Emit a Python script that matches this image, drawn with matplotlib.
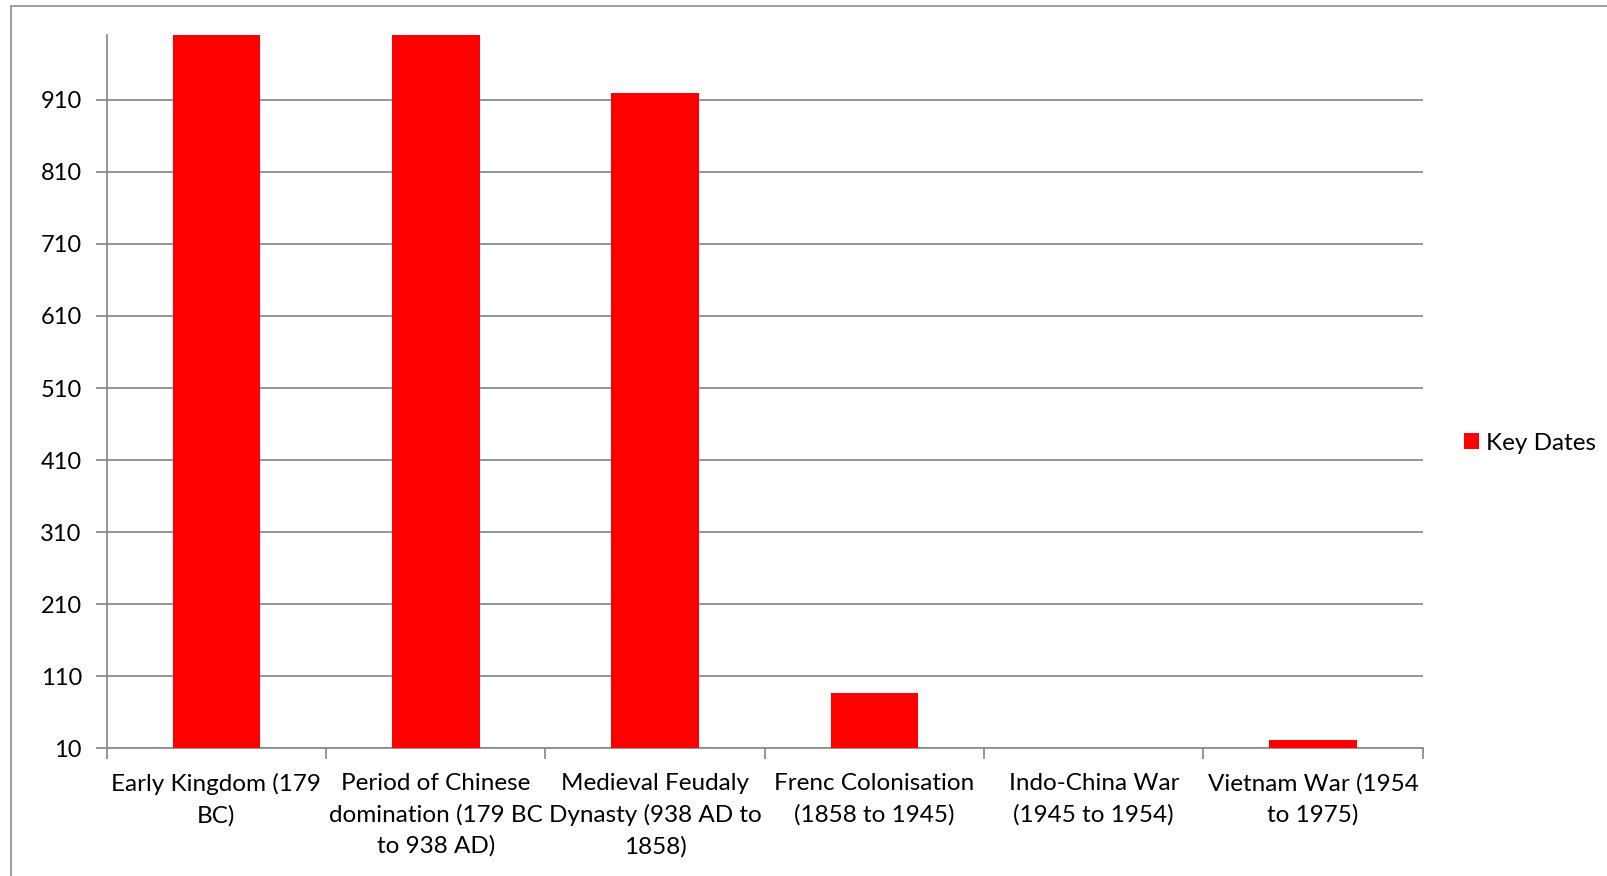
import matplotlib.pyplot as plt
from matplotlib.patches import Rectangle

plt.rcParams['font.family'] = ['Lato', 'DejaVu Sans']

# данни
categories = ['Early Kingdom (179\nBC)',
              'Period of Chinese\ndomination (179 BC\nto 938 AD)',
              'Medieval Feudaly\nDynasty (938 AD to\n1858)',
              'Frenc Colonisation\n(1858 to 1945)',
              'Indo-China War\n(1945 to 1954)',
              'Vietnam War (1954\nto 1975)']
key_dates = [1000, 1117, 920, 87, 9, 21]
y_ticks = [10, 110, 210, 310, 410, 510, 610, 710, 810, 910]

fig = plt.figure(figsize=(16.08, 8.76), dpi=100)

# рамка около графиката
fig.patches.append(Rectangle((11 / 1608, -0.1), 1.1, 1 - 6 / 876 + 0.1,
                             transform=fig.transFigure, fill=False,
                             edgecolor='#8c8c8c', linewidth=1.2))

ax = fig.add_axes([0.0664, 0.1458, 0.8184, 0.8143])

x = range(len(categories))
ax.bar(x, key_dates, width=0.4, color='#ff0000', label='Key Dates', zorder=3)

ax.set_xlim(-0.5, len(categories) - 0.5)
ax.set_ylim(10, 1000)
ax.set_yticks(y_ticks)
ax.set_yticklabels([str(v) for v in y_ticks])

ax.set_xticks(x)
ax.set_xticklabels(categories, linespacing=1.55)
ax.set_xticks([i - 0.5 for i in range(len(categories) + 1)], minor=True)
ax.tick_params(axis='x', which='major', length=0, pad=18, labelsize=17.5)
ax.tick_params(axis='x', which='minor', length=8, width=1.3, color='#8c8c8c')
ax.tick_params(axis='y', length=8, width=1.3, color='#8c8c8c', pad=10, labelsize=17)

ax.grid(axis='y', color='#8c8c8c', linewidth=1.3, zorder=0)
for s in ['top', 'right']:
    ax.spines[s].set_visible(False)
for s in ['left', 'bottom']:
    ax.spines[s].set_color('#8c8c8c')
    ax.spines[s].set_linewidth(1.3)

ax.legend(loc='center left', bbox_to_anchor=(1464 / 1608, 1 - 443 / 876),
          bbox_transform=fig.transFigure, frameon=False, fontsize=17.5,
          handlelength=0.6, handleheight=0.6, handletextpad=0.3,
          borderpad=0, borderaxespad=0)

fig.savefig('out.png', dpi=100)
